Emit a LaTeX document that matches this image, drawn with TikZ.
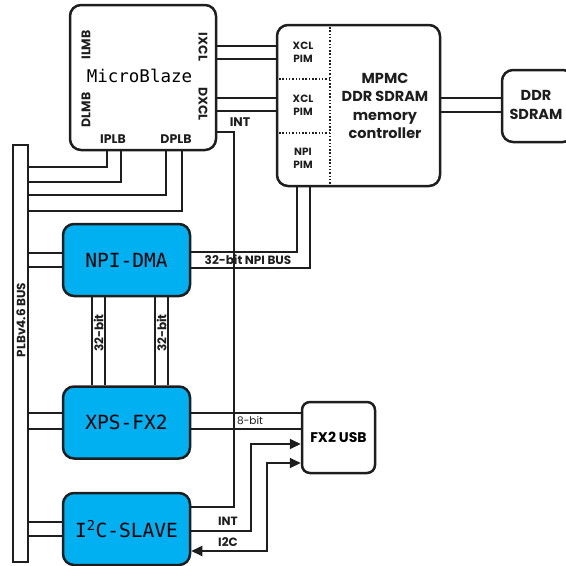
\documentclass[tikz,border=0pt]{standalone}
\usepackage{fontspec}
\newfontfamily\monofont{DejaVu Sans Mono}
\newfontfamily\lblfont{Poppins}
\definecolor{blkblue}{RGB}{0, 176, 240}
\definecolor{wire}{RGB}{30, 30, 30}
\usetikzlibrary{arrows.meta}

\begin{document}
\begin{tikzpicture}[x=1pt, y=-1pt,
    box/.style={draw=wire, line width=2.5pt, rounded corners=11pt, inner sep=0pt, align=center},
    ipbox/.style={box, fill=blkblue, minimum width=127pt, minimum height=72pt,
      font=\monofont\fontsize{19.5}{20}\selectfont},
    lbl/.style={inner sep=0pt, align=center, text=wire,
      font=\lblfont\bfseries\fontsize{12.5}{14}\selectfont},
    pimlbl/.style={lbl, font=\lblfont\bfseries\fontsize{10.5}{13}\selectfont},
    biglbl/.style={lbl, font=\lblfont\bfseries\fontsize{14.5}{18.3}\selectfont},
    buslbl/.style={lbl, font=\lblfont\bfseries\fontsize{12}{13}\selectfont},
    bus/.style={draw=wire, line width=2pt},
    pimsep/.style={draw=wire, line width=1.8pt, dash pattern=on 1.5pt off 1.8pt},
    tip/.style={-{Triangle[length=11pt, width=10pt]}},
    tips/.style={{Triangle[length=11pt, width=10pt]}-{Triangle[length=11pt, width=10pt]}}]
    \useasboundingbox (0,0) rectangle (566,566);
    \clip (0,0) rectangle (566,566);

    % processor and memory
    \node[box, minimum width=146pt, minimum height=145pt] (mb) at (143,77.5) {};
    \node[font=\monofont\fontsize{17.5}{18}\selectfont, inner sep=0pt] (mbname) at (139.5,76) {MicroBlaze};
    \node[lbl, rotate=90] (ilmb) at (86,45) {ILMB};
    \node[lbl, rotate=90] (dlmb) at (86,110) {DLMB};
    \node[lbl, rotate=-90] (ixcl) at (203,47) {IXCL};
    \node[lbl, rotate=-90] (dxcl) at (203,104) {DXCL};
    \node[lbl] (iplb) at (113,139) {IPLB};
    \node[lbl] (dplb) at (176,139) {DPLB};

    \node[box, minimum width=163pt, minimum height=161pt] (mpmc) at (358.5,105.5) {};
    \node[biglbl] (mpmctxt) at (385,106) {MPMC\\DDR SDRAM\\memory\\controller};
    \node[pimlbl] (pim1) at (303,52) {XCL\\PIM};
    \node[pimlbl] (pim2) at (303,105) {XCL\\PIM};
    \node[pimlbl] (pim3) at (303,158) {NPI\\PIM};
    \draw[pimsep] (mpmc.north -| 330,0) -- (mpmc.south -| 330,0);
    \draw[pimsep] (mpmc.west |- 0,79) -- (330,79);
    \draw[pimsep] (mpmc.west |- 0,133) -- (330,133);

    \node[box, minimum width=72pt, minimum height=72pt] (ddr) at (538,106) {};
    \node[biglbl] (ddrtxt) at (536,105) {DDR\\SDRAM};

    % bus and peripherals
    \node[draw=wire, line width=2pt, minimum width=15pt, minimum height=417pt, inner sep=0pt] (plb) at (20.5,353.5) {};
    \node[buslbl, rotate=90] (plbtxt) at (21,320) {PLBv4.6 BUS};

    \node[ipbox] (npidma) at (126.5,260) {NPI-DMA};
    \node[ipbox] (xpsfx) at (126.5,422.5) {XPS-FX2};
    \node[ipbox] (i2cs) at (126.5,529) {I\textsuperscript{2}C-SLAVE};
    \node[box, rounded corners=8pt, minimum width=73pt, minimum height=71pt,
      font=\lblfont\bfseries\fontsize{14}{16}\selectfont] (fxusb) at (338.5,437.5) {FX2 USB};

    % connections
    \foreach \yy in {46,59,98,111}
      \draw[bus] (mb.east |- 0,\yy) -- (mpmc.west |- 0,\yy);
    \foreach \yy in {98,112}
      \draw[bus] (mpmc.east |- 0,\yy) -- (ddr.west |- 0,\yy);
    \foreach \xx/\yy in {107/167,121/182,166/195,182/211}
      \draw[bus] (mb.south -| \xx,0) |- (plb.east |- 0,\yy);
    \foreach \yy in {253,267}
      \draw[bus] (plb.east |- 0,\yy) -- (npidma.west |- 0,\yy);
    \foreach \yy in {413,429}
      \draw[bus] (plb.east |- 0,\yy) -- (xpsfx.west |- 0,\yy);
    \foreach \yy in {522,536}
      \draw[bus] (plb.east |- 0,\yy) -- (i2cs.west |- 0,\yy);

    \foreach \xx/\yy in {297/252,310/268}
      \draw[bus] (mpmc.south -| \xx,0) |- (npidma.east |- 0,\yy);
    \node[buslbl] (npibus) at (248,260) {32-bit NPI BUS};

    \foreach \xx in {92,105,155,168}
      \draw[bus] (npidma.south -| \xx,0) -- (xpsfx.north -| \xx,0);
    \node[buslbl, rotate=90] (w32a) at (98.5,333) {32-bit};
    \node[buslbl, rotate=90] (w32b) at (161.5,333) {32-bit};

    \foreach \yy in {413,429}
      \draw[bus] (xpsfx.east |- 0,\yy) -- (fxusb.west |- 0,\yy);
    \node[lbl, font=\lblfont\fontsize{10.5}{12}\selectfont] (w8) at (250,421) {8-bit};

    \draw[bus] (mb.east |- 0,132) -- ++(17,0) |- (i2cs.east |- 0,507);
    \node[lbl] (mbint) at (240,122) {INT};
    \draw[bus, tip] (i2cs.east |- 0,531) -- ++(60,0) |- (fxusb.west |- 0,444);
    \draw[bus, tips] (fxusb.west |- 0,463) -- ++(-34,0) |- (i2cs.east |- 0,551);
    \node[buslbl] (i2cint) at (228,521) {INT};
    \node[buslbl] (i2cline) at (228,542) {I2C};
  \end{tikzpicture}
\end{document}
